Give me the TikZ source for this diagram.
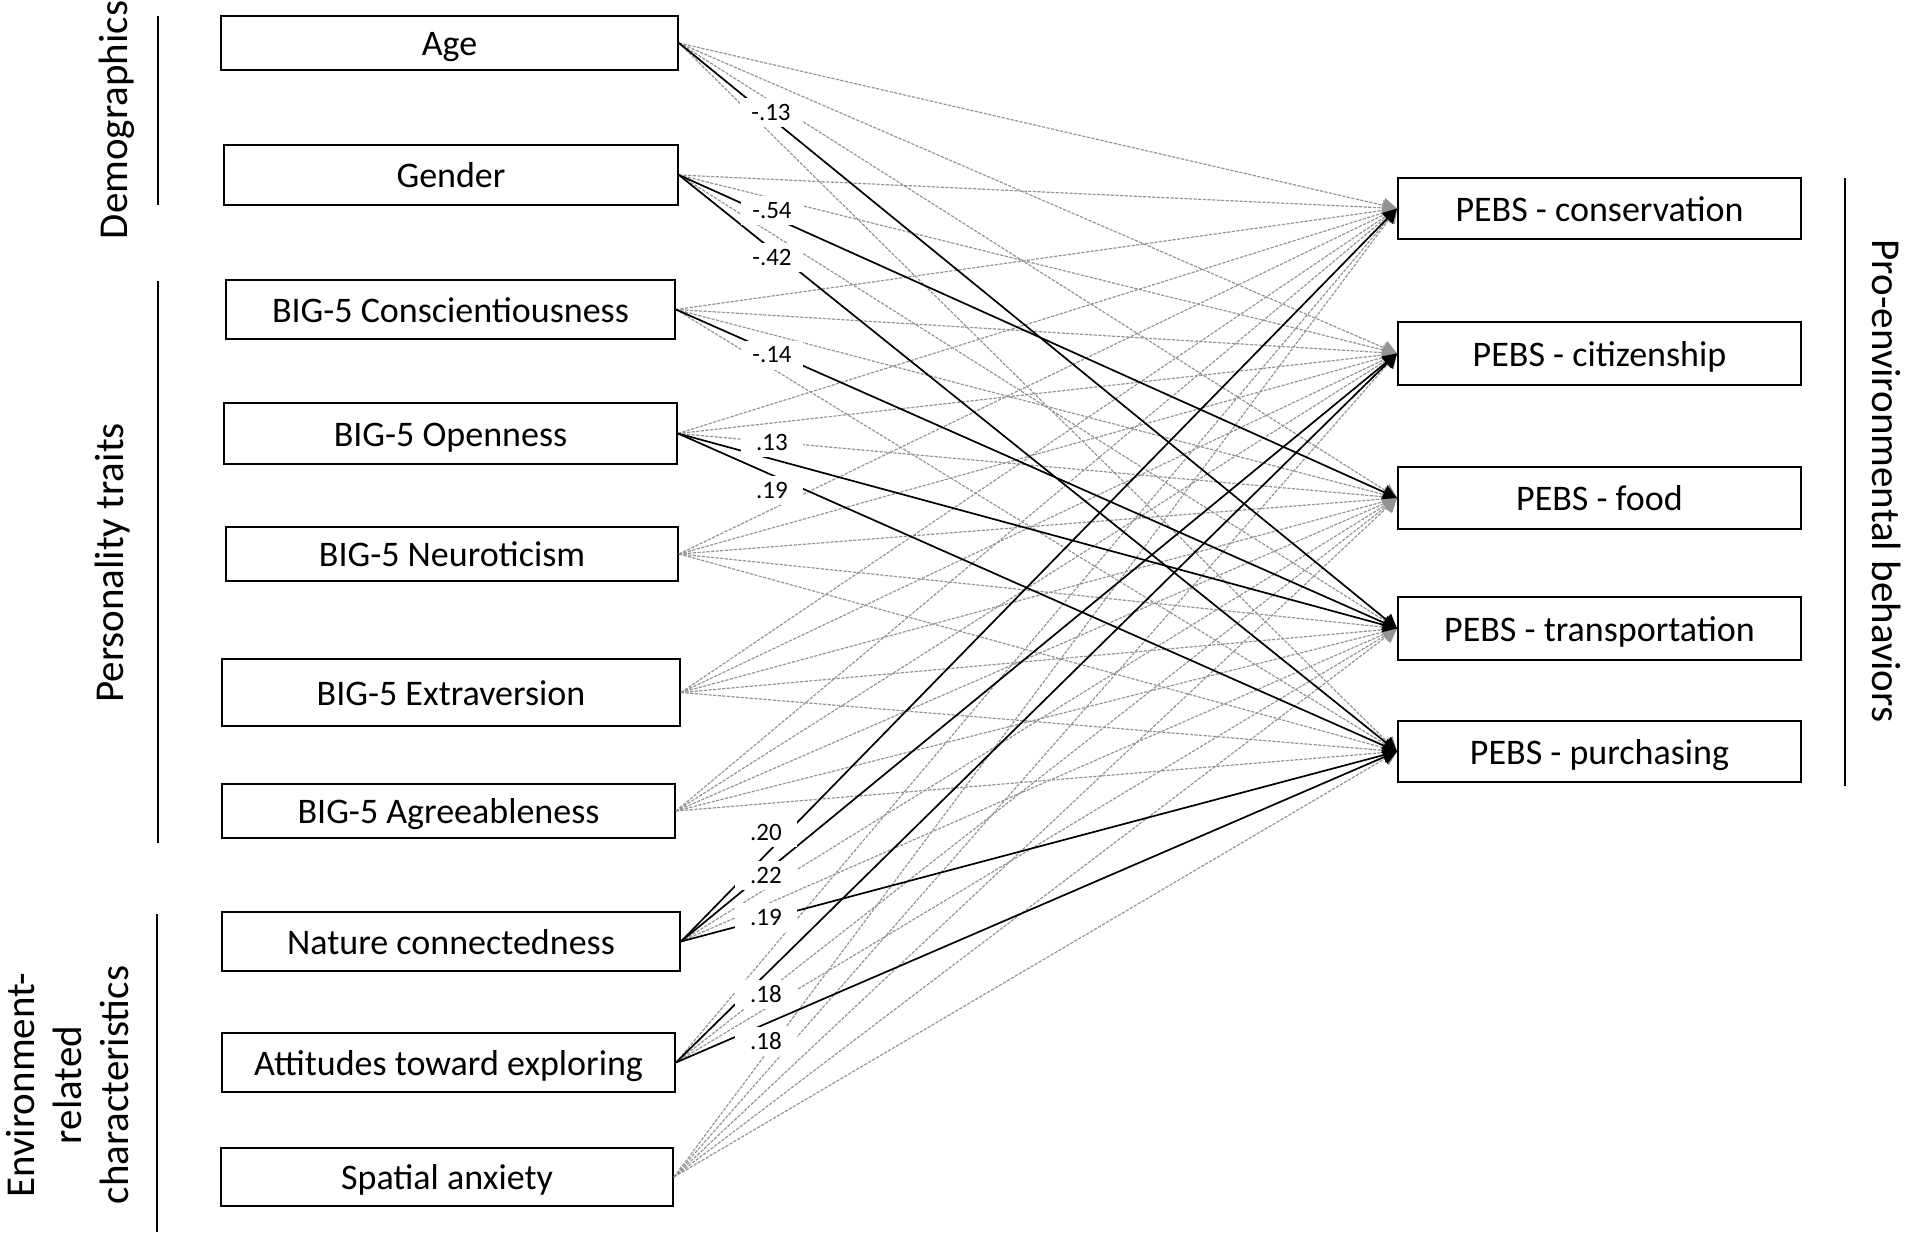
\documentclass[tikz,border=0pt]{standalone}
\usepackage{fontspec}
\setmainfont{Carlito}
\usetikzlibrary{arrows.meta}
\begin{document}
\begin{tikzpicture}[x=0.5pt,y=-0.5pt,
  box/.style={draw, line width=0.95pt, fill=white, inner sep=0pt, text height=12.6pt, text depth=0pt, font=\fontsize{18}{20}\selectfont},
  wh/.style 2 args={minimum width=#1*0.5pt, minimum height=#2*0.5pt},
  ns/.style={draw=black!42, line width=0.6pt, dash pattern=on 1.6pt off 0.7pt, -{Triangle[length=7pt,width=7.5pt]}},
  sig/.style={draw=black, line width=0.85pt, -{Triangle[length=7pt,width=7.5pt]}},
  coef/.style={fill=white, inner sep=0pt, minimum width=31pt, minimum height=14.5pt, font=\fontsize{12.5}{14}\selectfont},
  grp/.style={font=\fontsize{20.5}{23.5}\selectfont, align=center, inner sep=0pt},
  bar/.style={line width=1.4pt}
]
\useasboundingbox (0,0) rectangle (1908,1242);

% left boxes
\node[box, wh={457}{54}] (age) at (449.5,43) {Age};
\node[box, wh={454}{60}] (gender) at (451,175) {Gender};
\node[box, wh={449}{59}] (consc) at (450.5,309.5) {BIG-5 Conscientiousness};
\node[box, wh={453}{61}] (open) at (450.5,433.5) {BIG-5 Openness};
\node[box, wh={452}{54}] (neuro) at (452,554) {BIG-5 Neuroticism};
\node[box, wh={458}{67}] (extra) at (451,692.5) {BIG-5 Extraversion};
\node[box, wh={453}{54}] (agree) at (448.5,811) {BIG-5 Agreeableness};
\node[box, wh={458}{59}] (nature) at (451,941.5) {Nature connectedness};
\node[box, wh={453}{59}] (attit) at (448.5,1062.5) {Attitudes toward exploring};
\node[box, wh={452}{58}] (spatial) at (447,1177) {Spatial anxiety};

% right boxes
\node[box, wh={403}{61}] (pcon) at (1599.5,208.5) {PEBS - conservation};
\node[box, wh={403}{63}] (pcit) at (1599.5,353.5) {PEBS - citizenship};
\node[box, wh={403}{62}] (pfood) at (1599.5,498) {PEBS - food};
\node[box, wh={403}{63}] (ptrans) at (1599.5,628.5) {PEBS - transportation};
\node[box, wh={403}{61}] (ppur) at (1599.5,751.5) {PEBS - purchasing};

% non-significant paths
\foreach \r in {pcon,pcit,pfood,ppur} \draw[ns] (age.east) -- (\r.west);
\foreach \r in {pcon,pcit,ptrans} \draw[ns] (gender.east) -- (\r.west);
\foreach \r in {pcon,pcit,pfood,ppur} \draw[ns] (consc.east) -- (\r.west);
\foreach \r in {pcon,pcit,pfood} \draw[ns] (open.east) -- (\r.west);
\foreach \r in {pcon,pcit,pfood,ptrans,ppur} \draw[ns] (neuro.east) -- (\r.west);
\foreach \r in {pcon,pcit,pfood,ptrans,ppur} \draw[ns] (extra.east) -- (\r.west);
\foreach \r in {pcon,pcit,pfood,ptrans,ppur} \draw[ns] (agree.east) -- (\r.west);
\foreach \r in {pfood,ptrans} \draw[ns] (nature.east) -- (\r.west);
\foreach \r in {pcon,pfood,ptrans} \draw[ns] (attit.east) -- (\r.west);
\foreach \r in {pcon,pcit,pfood,ptrans,ppur} \draw[ns] (spatial.east) -- (\r.west);

% significant paths
\draw[sig] (age.east) -- (ptrans.west);
\draw[sig] (gender.east) -- (pfood.west);
\draw[sig] (gender.east) -- (ppur.west);
\draw[sig] (consc.east) -- (ptrans.west);
\draw[sig] (open.east) -- (ptrans.west);
\draw[sig] (open.east) -- (ppur.west);
\draw[sig] (nature.east) -- (pcon.west);
\draw[sig] (nature.east) -- (pcit.west);
\draw[sig] (nature.east) -- (ppur.west);
\draw[sig] (attit.east) -- (pcit.west);
\draw[sig] (attit.east) -- (ppur.west);

% coefficients
\node[coef] (c1) at (771,112) {-.13};
\node[coef] (c2) at (772,210.5) {-.54};
\node[coef] (c3) at (772,257.5) {-.42};
\node[coef] (c4) at (772,355) {-.14};
\node[coef] (c5) at (772,442.5) {.13};
\node[coef] (c6) at (772,490.5) {.19};
\node[coef] (c7) at (766,832) {.20};
\node[coef] (c8) at (766,875) {.22};
\node[coef] (c9) at (766,917) {.19};
\node[coef] (c10) at (766,994) {.18};
\node[coef] (c11) at (766,1041) {.18};

% group labels and bars
\draw[bar] (158,16) -- (158,205);
\draw[bar] (158,281) -- (158,843);
\draw[bar] (157,914) -- (157,1232);
\draw[bar] (1845,178) -- (1845,786);
\node[grp, rotate=90] (tdemo) at (117,120) {Demographics};
\node[grp, rotate=90] (tpers) at (113,563) {Personality traits};
\node[grp, rotate=90] (tenv) at (68,1085) {Environment-\\related\\characteristics};
\node[grp, rotate=-90] (tpeb) at (1887,481) {Pro-environmental behaviors};
\end{tikzpicture}
\end{document}
